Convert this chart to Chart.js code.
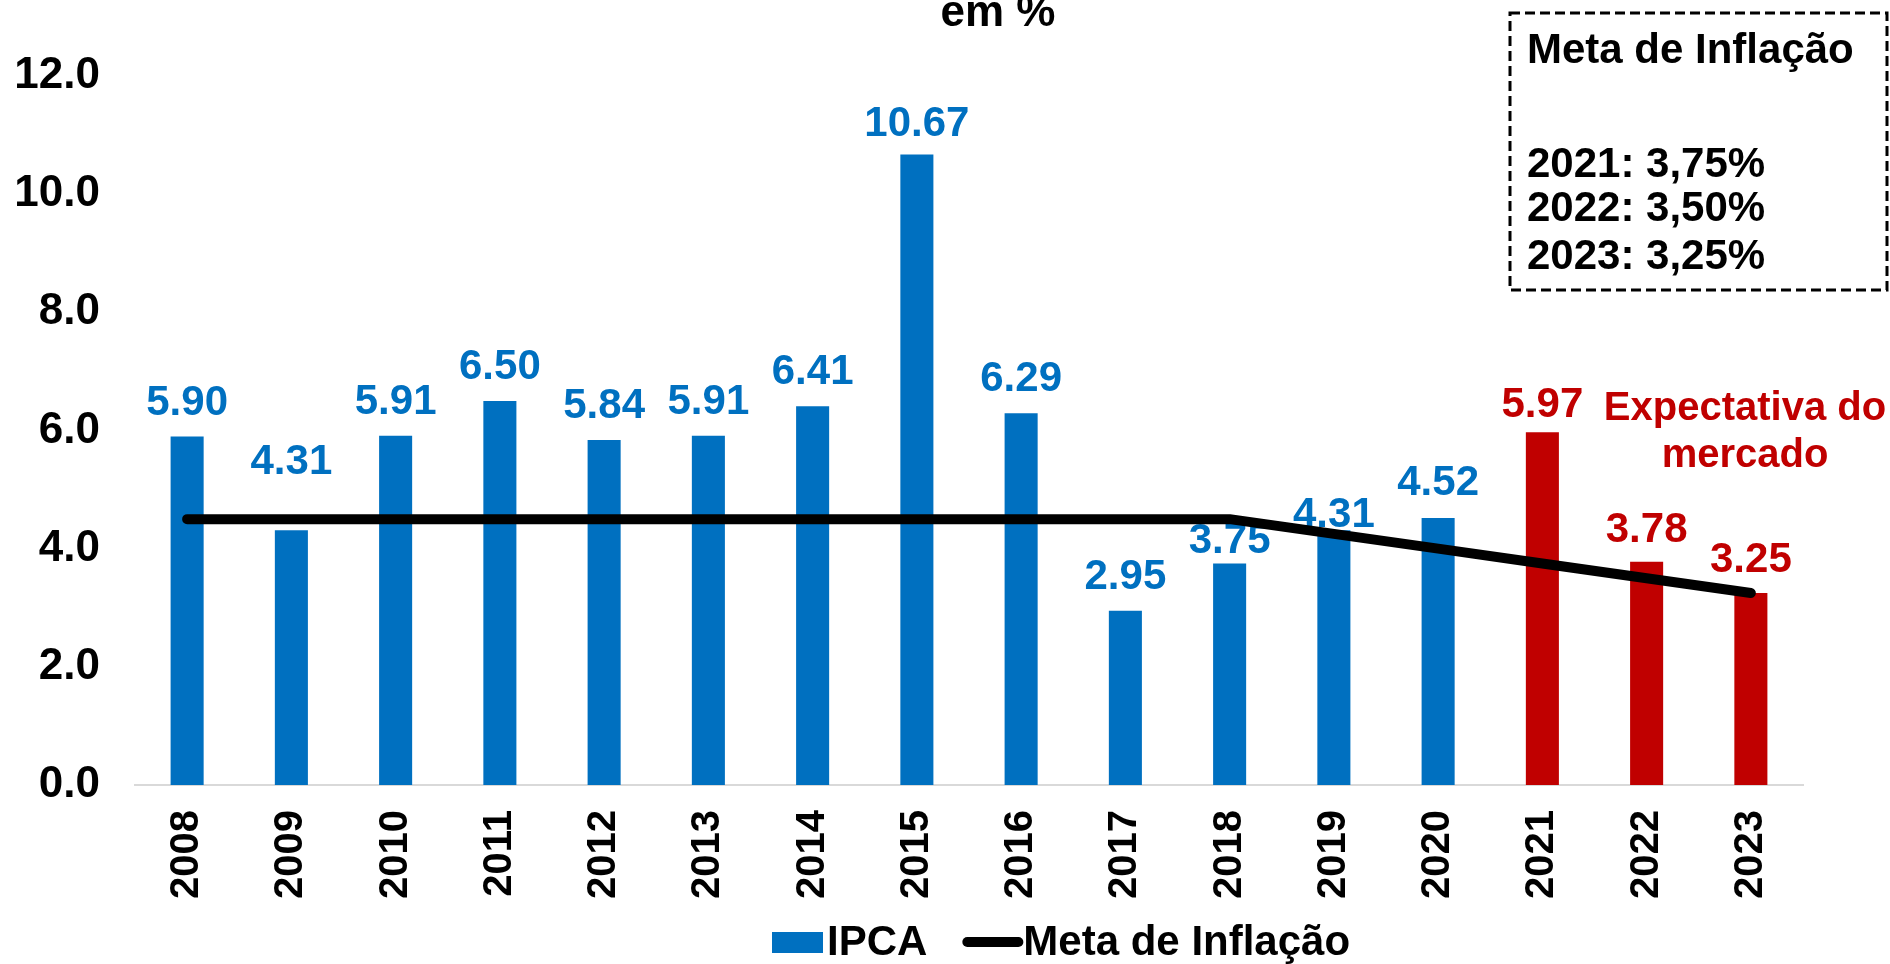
<!DOCTYPE html>
<html>
<head>
<meta charset="utf-8">
<script src="https://cdn.jsdelivr.net/npm/chart.js@4.4.0/dist/chart.umd.min.js"></script>
<style>
html,body{margin:0;padding:0;background:#ffffff;}
#wrap{width:1890px;height:964px;position:relative;}
canvas{display:block;}
</style>
</head>
<body>
<div id="wrap"><canvas id="c" width="1890" height="964"></canvas></div>
<script>
// ---- data ----
const years = ['2008','2009','2010','2011','2012','2013','2014','2015','2016','2017','2018','2019','2020','2021','2022','2023'];
const ipca = [5.90, 4.31, 5.91, 6.50, 5.84, 5.91, 6.41, 10.67, 6.29, 2.95, 3.75, 4.31, 4.52, 5.97, 3.78, 3.25];
const metaInflacao = [4.5, 4.5, 4.5, 4.5, 4.5, 4.5, 4.5, 4.5, 4.5, 4.5, 4.5, 4.25, 4.0, 3.75, 3.5, 3.25];
const expectationYears = ['2021', '2022', '2023'];
const yTickLabels = ['0.0', '2.0', '4.0', '6.0', '8.0', '10.0', '12.0'];
const seriesNames = ['IPCA', 'Meta de Inflação'];
const titleText = 'em %';
const boxTitle = 'Meta de Inflação';
const boxLines = ['2021: 3,75%', '2022: 3,50%', '2023: 3,25%'];
const noteLines = ['Expectativa do', 'mercado'];

// ---- styling ----
const BLUE = '#0070C0';
const RED = '#C00000';
const FONT = "'Liberation Sans', Arial, Helvetica, sans-serif";
const labelGap = [37, 71, 37, 37, 37, 37, 37, 34, 37, 37, 26, 18, 38, 30, 35, 36];

const barColors = years.map(y => expectationYears.includes(y) ? RED : BLUE);

Chart.defaults.font.family = FONT;
Chart.defaults.color = '#000000';

const barLabelPlugin = {
  id: 'barLabels',
  afterDatasetDraw(chart, args) {
    if (args.index !== 0) return;
    const ctx = chart.ctx;
    const size = 42;
    ctx.save();
    ctx.font = 'bold ' + size + 'px ' + FONT;
    ctx.textAlign = 'center';
    ctx.textBaseline = 'alphabetic';
    args.meta.data.forEach((el, i) => {
      ctx.fillStyle = barColors[i];
      ctx.fillText(ipca[i].toFixed(2), el.x, el.y - labelGap[i] + 0.36 * size);
    });
    ctx.restore();
  }
};

const extrasPlugin = {
  id: 'extras',
  afterDraw(chart) {
    const ctx = chart.ctx;
    ctx.save();
    ctx.textBaseline = 'alphabetic';
    // partially visible title
    ctx.fillStyle = '#000';
    ctx.font = 'bold 44px ' + FONT;
    ctx.textAlign = 'center';
    ctx.fillText(titleText, 998, 26);

    // dashed box
    ctx.strokeStyle = '#000';
    ctx.lineWidth = 3;
    ctx.setLineDash([10, 5]);
    ctx.strokeRect(1510, 13, 377, 277);
    ctx.setLineDash([]);
    ctx.textAlign = 'left';
    ctx.font = 'bold 42px ' + FONT;
    ctx.fillText(boxTitle, 1527, 63);
    const bl = [177, 221, 269];
    boxLines.forEach((t, i) => ctx.fillText(t, 1527, bl[i]));

    // note
    ctx.fillStyle = RED;
    ctx.textAlign = 'center';
    ctx.font = 'bold 40px ' + FONT;
    ctx.fillText(noteLines[0], 1745, 420);
    ctx.fillText(noteLines[1], 1745, 467);

    // legend
    const ds = chart.data.datasets;
    ctx.textAlign = 'left';
    ctx.font = 'bold 42px ' + FONT;
    ctx.fillStyle = ds[0].legendColor;
    ctx.fillRect(772, 932, 51, 21);
    ctx.fillStyle = '#000';
    ctx.fillText(ds[0].label, 827, 955);
    const w0 = ctx.measureText(ds[0].label).width;
    const lx = 827 + w0 + 40;
    ctx.strokeStyle = ds[1].borderColor;
    ctx.lineWidth = 10;
    ctx.lineCap = 'round';
    ctx.beginPath();
    ctx.moveTo(lx, 942);
    ctx.lineTo(lx + 51, 942);
    ctx.stroke();
    ctx.fillText(ds[1].label, lx + 56, 955);
    ctx.restore();
  }
};

new Chart(document.getElementById('c'), {
  data: {
    labels: years,
    datasets: [
      {
        type: 'bar',
        label: seriesNames[0],
        data: ipca,
        backgroundColor: barColors,
        legendColor: BLUE,
        barPercentage: 0.317,
        categoryPercentage: 1.0,
        order: 1
      },
      {
        type: 'line',
        label: seriesNames[1],
        data: metaInflacao,
        borderColor: '#000000',
        borderWidth: 10,
        borderCapStyle: 'round',
        borderJoinStyle: 'round',
        pointRadius: 0,
        tension: 0,
        fill: false,
        order: 0
      }
    ]
  },
  options: {
    responsive: false,
    animation: false,
    layout: { padding: { top: 76, right: 87, bottom: 0, left: 0 } },
    plugins: {
      legend: { display: false },
      title: { display: false },
      tooltip: { enabled: false }
    },
    scales: {
      x: {
        grid: { display: false, drawTicks: false },
        border: { display: true, color: '#d9d9d9', width: 2 },
        ticks: {
          minRotation: 90,
          maxRotation: 90,
          padding: 25,
          color: '#000',
          font: { size: 40, weight: 'bold', family: FONT }
        },
        afterFit(scale) { scale.height = 179; }
      },
      y: {
        min: 0,
        max: 12,
        grid: { display: false, drawTicks: false },
        border: { display: false },
        ticks: {
          stepSize: 2,
          padding: 35,
          color: '#000',
          font: { size: 44, weight: 'bold', family: FONT },
          callback: (v) => yTickLabels[Math.round(v / 2)]
        },
        afterFit(scale) { scale.width = 135; }
      }
    }
  },
  plugins: [barLabelPlugin, extrasPlugin]
});
</script>
</body>
</html>
